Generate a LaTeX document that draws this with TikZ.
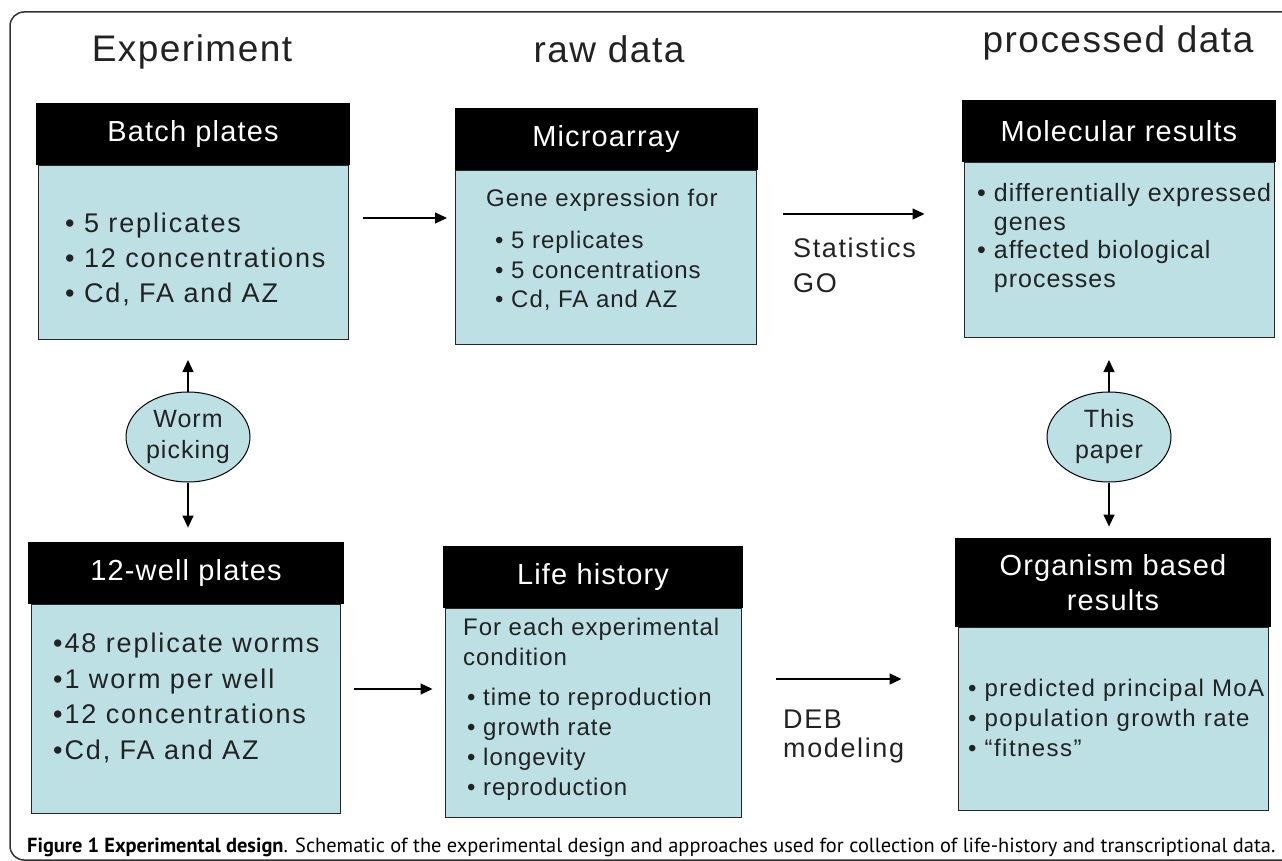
\documentclass[tikz,border=0pt]{standalone}
\usepackage{fontspec}
\setmainfont{Liberation Sans}[LetterSpace=4]
\newfontfamily\capfont{PT Sans}
\usetikzlibrary{positioning,arrows.meta,shapes.geometric}
\definecolor{boxblue}{RGB}{188,224,228}
\definecolor{ink}{RGB}{34,34,34}
\newcommand\spread[1]{\addfontfeature{LetterSpace=#1}}
\tikzset{
  head/.style={fill=black,text=white,minimum width=314pt,minimum height=62pt,inner sep=0pt,align=center,font=\fontsize{29}{35}\selectfont},
  body/.style={fill=boxblue,draw=black!85,line width=1pt,minimum width=310pt,inner sep=0pt},
  txt/.style={align=left,anchor=west,inner sep=0pt,text=ink},
  blob/.style={ellipse,fill=boxblue,draw=black,line width=1pt,minimum width=124pt,minimum height=90pt,inner sep=0pt,align=center,text=ink,font=\fontsize{25}{31}\selectfont},
  arr/.style={-{Triangle[length=12pt,width=11pt]},line width=1.3pt},
  title/.style={anchor=base,inner sep=0pt,text=ink,font=\fontsize{37}{40}\selectfont}
}
\begin{document}
\begin{tikzpicture}[x=1pt,y=-1pt]
\useasboundingbox (0,0) rectangle (1282,861);
\draw[line width=1.5pt,black!80,rounded corners=14pt] (10,12) rectangle (1300,860);
% column titles
\node[title] (ttlexp) at (192,62) {Experiment};
\node[title] (ttlraw) at (609,63) {raw data};
\node[title] (ttlproc) at (1118,53) {processed data};
% top row
\node[body,minimum height=174pt,anchor=north] (batchbody) at (193,165) {};
\node[head,above=0pt of batchbody] (batchhead) {Batch plates};
\node[txt,font=\fontsize{27}{35}\selectfont\spread{7}] (batchtxt) at (65,259) {• 5 replicates\\• 12 concentrations\\• Cd, FA and AZ};
\node[body,minimum width=301pt,minimum height=174pt,anchor=north] (microbody) at (606,170) {};
\node[head,minimum width=303pt,above=0pt of microbody] (microhead) {Microarray};
\node[txt,font=\fontsize{24}{29.5}\selectfont] (microtxt) at (486,250) {Gene expression for\\[12.5pt]\hspace*{9pt}• 5 replicates\\\hspace*{9pt}• 5 concentrations\\\hspace*{9pt}• Cd, FA and AZ};
\node[body,minimum height=175pt,anchor=north] (molbody) at (1119,162) {};
\node[head,above=0pt of molbody] (molhead) {Molecular results};
\node[txt,font=\fontsize{25}{28.7}\selectfont] (moltxt) at (977,238) {• differentially expressed\\\hphantom{• }genes\\• affected biological\\\hphantom{• }processes};
% bottom row
\node[body,minimum width=309pt,minimum height=209pt,anchor=north] (wellbody) at (186,604) {};
\node[head,minimum width=316pt,above=0pt of wellbody] (wellhead) {12-well plates};
\node[txt,font=\fontsize{27}{35.7}\selectfont\spread{7}] (welltxt) at (53,698) {•48 replicate worms\\•1 worm per well\\•12 concentrations\\•Cd, FA and AZ};
\node[body,minimum width=296pt,minimum height=209pt,anchor=north] (lifebody) at (593,608) {};
\node[head,minimum width=300pt,above=0pt of lifebody] (lifehead) {Life history};
\node[txt,font=\fontsize{24}{30}\selectfont] (lifetxt) at (463,709) {For each experimental\\condition\\[10pt]\hspace*{4pt}• time to reproduction\\\hspace*{4pt}• growth rate\\\hspace*{4pt}• longevity\\\hspace*{4pt}• reproduction};
\node[body,minimum height=183pt,anchor=north] (orgbody) at (1113,627) {};
\node[head,minimum width=316pt,minimum height=89pt,above=0pt of orgbody] (orghead) {Organism based\\results};
\node[txt,font=\fontsize{24}{30}\selectfont\spread{6}] (orgtxt) at (968,718) {• predicted principal MoA\\• population growth rate\\• “fitness”};
% links
\node[blob] (worm) at (188,437) {Worm\\picking};
\node[blob] (paper) at (1109,437) {This\\paper};
\draw[arr,shorten <=14pt,shorten >=8pt] (batchbody.east |- 0,218) -- (microbody.west |- 0,218);
\draw[arr,shorten <=26pt,shorten >=39pt] (microbody.east |- 0,214) -- (molbody.west |- 0,214);
\draw[arr,shorten <=13pt,shorten >=12pt] (wellbody.east |- 0,689) -- (lifebody.west |- 0,689);
\draw[arr,shorten <=34pt,shorten >=56pt] (lifebody.east |- 0,679) -- (orgbody.west |- 0,679);
\draw[arr,shorten >=20pt] (worm.north) -- (worm.north |- batchbody.south);
\draw[arr,shorten >=14pt] (worm.south) -- (worm.south |- wellhead.north);
\draw[arr,shorten >=22pt] (paper.north) -- (paper.north |- molbody.south);
\draw[arr,shorten >=11pt] (paper.south) -- (paper.south |- orghead.north);
\node[txt,font=\fontsize{27}{35}\selectfont\spread{6}] (statlbl) at (793,265) {Statistics\\GO};
\node[txt,font=\fontsize{27}{29}\selectfont\spread{6}] (deblbl) at (783,737) {DEB\\modeling};
% caption
\node[anchor=base west,inner sep=0pt] (caption) at (27,852) {\capfont\fontsize{20.4}{22}\selectfont\textbf{Figure 1 Experimental design}. Schematic of the experimental design and approaches used for collection of life-history and transcriptional data.};
\end{tikzpicture}
\end{document}
